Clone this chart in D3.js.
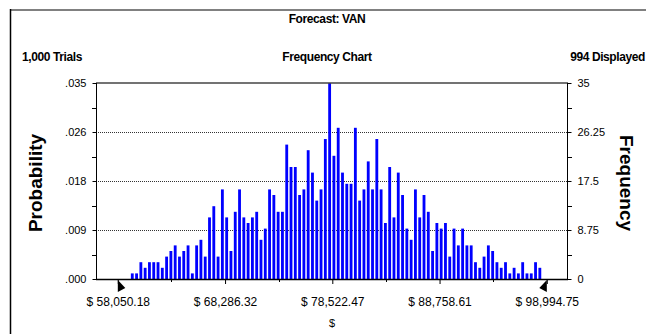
<!DOCTYPE html>
<html>
<head>
<meta charset="utf-8">
<script src="https://cdn.jsdelivr.net/npm/d3@7"></script>
<style>
  html, body { margin: 0; padding: 0; background: #fff; }
  svg { display: block; font-family: "Liberation Sans", Arial, sans-serif; }
</style>
</head>
<body>
<svg id="chart" width="646" height="334"></svg>
<script>
// Forecast range shown on the x axis
const rangeMin = 58050.18;
const rangeMax = 98994.75;
const binCount = 100;

// Trial counts per bin (100 equal-width bins across the displayed range)
const frequencies = [
  0, 0, 0,
  1, 1, 3, 2, 3, 3, 3, 2, 4, 5, 6, 4, 5, 6, 1, 6, 7, 4, 11, 13, 4, 16, 11, 5, 12, 16, 11, 10, 11, 12, 7,
  9, 16, 15, 12, 12, 24, 20, 20, 15, 16, 23, 19, 14, 16, 25, 35, 22, 27, 19, 17, 17, 27, 14, 16, 21, 16, 25, 16, 10, 20, 11, 19, 15, 9, 7,
  16, 11, 15, 12, 5, 10, 9, 10, 4, 9, 6, 9, 6, 6, 3, 2, 4, 6, 5, 3, 2, 3, 1, 2, 1, 3, 1, 1, 3, 2,
  0
];

const totalTrials = 1000;

// Axis ticks
const freqTicks = [0, 8.75, 17.5, 26.25, 35];
const freqTickLabels = ["0", "8.75", "17.5", "26.25", "35"];
const probTickLabels = [".000", ".009", ".018", ".026", ".035"];
const xTickLabels = ["$ 58,050.18", "$ 68,286.32", "$ 78,522.47", "$ 88,758.61", "$ 98,994.75"];

// Header texts
const titleText = "Forecast: VAN";
const leftHeader = "1,000 Trials";
const centerHeader = "Frequency Chart";
const rightHeader = "994 Displayed";

const svg = d3.select("#chart");

const plot = { left: 96, right: 568, top: 83, bottom: 279 };

const x = d3.scaleLinear().domain([rangeMin, rangeMax]).range([117.8, 546.8]);
const yFreq = d3.scaleLinear().domain([0, 35]).range([plot.bottom, plot.top]);
const yProb = d3.scaleLinear().domain([0, 35 / totalTrials]).range([plot.bottom, plot.top]);

const binWidth = (rangeMax - rangeMin) / binCount;
const binPx = x(rangeMin + binWidth) - x(rangeMin);

// Outer frame (top and left edges)
svg.append("line").attr("x1", 10).attr("x2", 646).attr("y1", 10).attr("y2", 10)
  .attr("stroke", "#808080").attr("stroke-width", 2);
svg.append("line").attr("x1", 10.5).attr("x2", 10.5).attr("y1", 9).attr("y2", 334)
  .attr("stroke", "#000").attr("stroke-width", 1.5);

// Headers
svg.append("text").attr("x", 327).attr("y", 23).attr("text-anchor", "middle")
  .attr("font-size", 12).attr("font-weight", "bold").attr("letter-spacing", -0.4)
  .text(titleText);
svg.append("text").attr("x", 22).attr("y", 61)
  .attr("font-size", 12).attr("font-weight", "bold").attr("letter-spacing", -0.4)
  .text(leftHeader);
svg.append("text").attr("x", 327).attr("y", 61).attr("text-anchor", "middle")
  .attr("font-size", 12).attr("font-weight", "bold").attr("letter-spacing", -0.4)
  .text(centerHeader);
svg.append("text").attr("x", 645).attr("y", 61).attr("text-anchor", "end")
  .attr("font-size", 12).attr("font-weight", "bold").attr("letter-spacing", -0.4)
  .text(rightHeader);

// Dotted gridlines
const gridVals = freqTicks.filter(v => v > 0 && v < 35);
svg.append("g").selectAll("line").data(gridVals).join("line")
  .attr("x1", plot.left).attr("x2", plot.right)
  .attr("y1", d => Math.round(yFreq(d)) + 0.5).attr("y2", d => Math.round(yFreq(d)) + 0.5)
  .attr("stroke", "#333").attr("stroke-dasharray", "1,1");

// Bars
svg.append("g").selectAll("rect").data(frequencies).join("rect")
  .attr("x", (d, i) => x(rangeMin + i * binWidth) + 0.2)
  .attr("width", binPx * 0.66)
  .attr("y", d => yFreq(d))
  .attr("height", d => plot.bottom - yFreq(d))
  .attr("fill", "#0000ff");

// Plot frame
svg.append("line").attr("x1", plot.left).attr("x2", plot.right).attr("y1", plot.top).attr("y2", plot.top)
  .attr("stroke", "#444").attr("stroke-width", 1.5);
svg.append("line").attr("x1", plot.left + 0.5).attr("x2", plot.left + 0.5).attr("y1", plot.top).attr("y2", plot.bottom)
  .attr("stroke", "#000");
svg.append("line").attr("x1", plot.right - 0.5).attr("x2", plot.right - 0.5).attr("y1", plot.top).attr("y2", plot.bottom)
  .attr("stroke", "#000");

// Left axis (probability)
const minorFreq = d3.range(0, 35.001, 4.375);
const leftAxis = d3.axisLeft(yProb)
  .tickValues(freqTicks.map(v => v / totalTrials))
  .tickFormat((d, i) => probTickLabels[i])
  .tickSize(4).tickPadding(6);
const gL = svg.append("g").attr("transform", `translate(${plot.left + 0.5},0)`).call(leftAxis);
gL.select(".domain").remove();
gL.selectAll("text").attr("font-size", 11).attr("font-family", "Liberation Sans, Arial, sans-serif").attr("fill", "#000");
svg.append("g").selectAll("line").data(minorFreq.filter(v => !freqTicks.includes(v))).join("line")
  .attr("x1", plot.left - 4).attr("x2", plot.left)
  .attr("y1", d => Math.round(yFreq(d)) + 0.5).attr("y2", d => Math.round(yFreq(d)) + 0.5)
  .attr("stroke", "#000");

// Right axis (frequency)
const rightAxis = d3.axisRight(yFreq)
  .tickValues(freqTicks)
  .tickFormat((d, i) => freqTickLabels[i])
  .tickSize(4).tickPadding(6);
const gR = svg.append("g").attr("transform", `translate(${plot.right - 0.5},0)`).call(rightAxis);
gR.select(".domain").remove();
gR.selectAll("text").attr("font-size", 11).attr("font-family", "Liberation Sans, Arial, sans-serif").attr("fill", "#000");
svg.append("g").selectAll("line").data(minorFreq.filter(v => !freqTicks.includes(v))).join("line")
  .attr("x1", plot.right).attr("x2", plot.right + 4)
  .attr("y1", d => Math.round(yFreq(d)) + 0.5).attr("y2", d => Math.round(yFreq(d)) + 0.5)
  .attr("stroke", "#000");

// Bottom axis
const xTicks = d3.range(5).map(k => rangeMin + k * (rangeMax - rangeMin) / 4);
const xMinor = d3.range(4).map(k => rangeMin + (k + 0.5) * (rangeMax - rangeMin) / 4);
const bottomAxis = d3.axisBottom(x)
  .tickValues(xTicks)
  .tickFormat((d, i) => xTickLabels[i])
  .tickSize(5).tickPadding(13);
const gB = svg.append("g").attr("transform", `translate(0,${plot.bottom})`).call(bottomAxis);
gB.select(".domain").remove();
gB.selectAll("text").attr("font-size", 12).attr("font-family", "Liberation Sans, Arial, sans-serif").attr("fill", "#000");
svg.append("g").selectAll("line").data(xMinor).join("line")
  .attr("x1", d => Math.round(x(d)) + 0.5).attr("x2", d => Math.round(x(d)) + 0.5)
  .attr("y1", plot.bottom).attr("y2", plot.bottom + 3)
  .attr("stroke", "#000");

// Baseline
svg.append("line").attr("x1", plot.left).attr("x2", plot.right).attr("y1", plot.bottom + 0.5).attr("y2", plot.bottom + 0.5)
  .attr("stroke", "#000").attr("stroke-width", 1.5);

// End-point markers at the displayed range limits
const xa = x(rangeMin), xb = x(rangeMax), yb = plot.bottom + 1;
svg.append("path")
  .attr("d", `M${xa},${yb} L${xa + 7.5},${yb + 8} L${xa},${yb + 12} Z`).attr("fill", "#000");
svg.append("path")
  .attr("d", `M${xb},${yb} L${xb - 7.5},${yb + 8} L${xb},${yb + 12} Z`).attr("fill", "#000");

// Axis titles
svg.append("text").attr("x", 332).attr("y", 327).attr("text-anchor", "middle")
  .attr("font-size", 11).text("$");
svg.append("text")
  .attr("transform", `translate(42,${(plot.top + plot.bottom) / 2 + 2}) rotate(-90)`)
  .attr("text-anchor", "middle").attr("font-size", 19).attr("font-weight", "bold")
  .text("Probability");
svg.append("text")
  .attr("transform", `translate(620,${(plot.top + plot.bottom) / 2 + 2}) rotate(90)`)
  .attr("text-anchor", "middle").attr("font-size", 19).attr("font-weight", "bold")
  .text("Frequency");
</script>
</body>
</html>
